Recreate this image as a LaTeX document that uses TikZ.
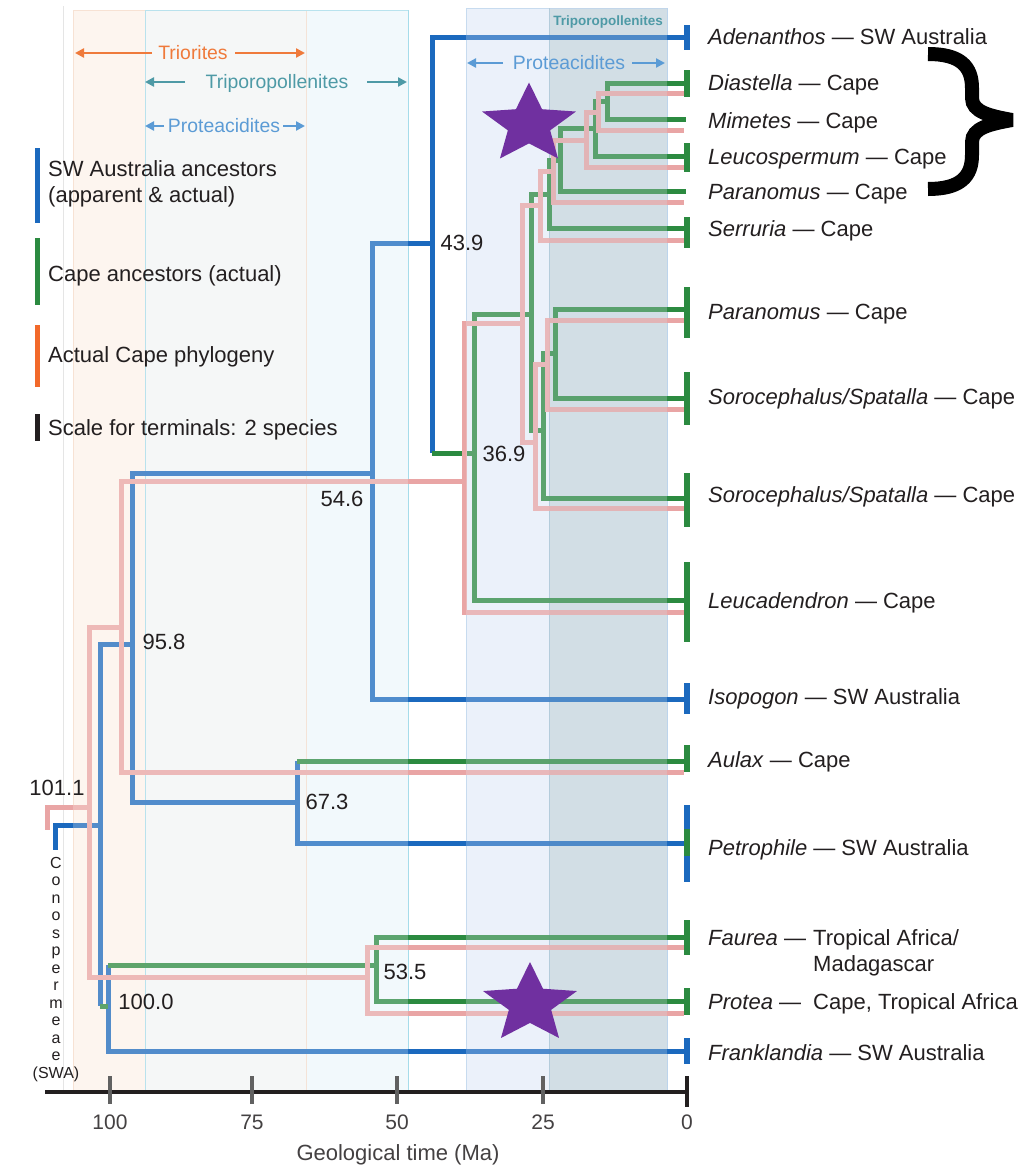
\documentclass[tikz,border=0pt]{standalone}
\usepackage{fontspec}
\setmainfont{Liberation Sans}
\usetikzlibrary{arrows.meta}
\definecolor{cblue}{HTML}{1B69BE}
\definecolor{cgreen}{HTML}{2B8A40}
\definecolor{cpink}{HTML}{E9A5A5}
\definecolor{corange}{HTML}{F2692A}
\definecolor{ctxt}{HTML}{231F20}
\definecolor{cstar}{HTML}{7030A0}
\definecolor{bandA}{HTML}{FDF5EF}
\definecolor{bandB}{HTML}{F5F7F7}
\definecolor{bandC}{HTML}{F2F9FC}
\definecolor{bandD}{HTML}{EBF1FA}
\definecolor{bandE}{HTML}{D2DEE5}
\definecolor{edgeO}{HTML}{F5DCCB}
\definecolor{edgeC}{HTML}{A6DCEA}
\definecolor{edgeD}{HTML}{BCD4EC}
\definecolor{edgeE}{HTML}{A9C6D8}
\definecolor{ctrio}{HTML}{EF7A3B}
\definecolor{ctrip}{HTML}{4E9AA6}
\definecolor{cprot}{HTML}{5B9BD5}
\begin{document}
\begin{tikzpicture}[x=1pt,y=-1pt,
  br/.style={line width=5pt, line cap=butt, line join=miter},
  bl/.style={br, draw=cblue}, gr/.style={br, draw=cgreen}, pk/.style={br, draw=cpink},
  tbar/.style={line width=5.5pt},
  lbl/.style={font=\fontsize{22}{26}\selectfont, text=ctxt, anchor=west, inner sep=0pt, text height=15.75pt, text depth=0pt},
  num/.style={lbl, anchor=center},
  ticklbl/.style={num, font=\fontsize{21}{24}\selectfont, text=ctxt!85},
  pollen/.style={font=\fontsize{19.4}{22}\selectfont, inner sep=0pt, text height=13.9pt, text depth=0pt},
  parr/.style={line width=2.4pt, -{Triangle[length=9pt,width=9pt]}},
  cono/.style={font=\fontsize{16}{18}\selectfont, text=ctxt, inner sep=0pt, anchor=base},
]
\useasboundingbox (0,0) rectangle (1025,1167);
\fill[white] (0,0) rectangle (1025,1167);
% ---------- bands ----------
\fill[bandA] (73,10) rectangle (145,1090);
\fill[bandB] (145,10) rectangle (306,1090);
\fill[bandC] (306,10) rectangle (408,1090);
\fill[bandD] (466,8) rectangle (549,1090);
\fill[bandE] (549,8) rectangle (667,1090);
\draw[black!10, line width=0.6pt] (63,6) -- (63,1090);
\draw[edgeO, line width=0.8pt] (73,1090) -- (73,10) -- (306,10) -- (306,1090);
\draw[edgeC, line width=0.8pt] (145,1090) -- (145,10) -- (408,10) -- (408,1090);
\draw[edgeD, line width=0.8pt] (466,1090) -- (466,8) -- (667,8) -- (667,1090);
\draw[edgeE, line width=0.8pt] (549,1090) -- (549,8);
% ---------- tips ----------
\coordinate (tAden) at (686,37);
\coordinate (tIso) at (686,699);
\coordinate (tPetro) at (686,843);
\coordinate (tFrank) at (686,1051);
\coordinate (gDia) at (686,83);
\coordinate (gMim) at (686,119);
\coordinate (gLeu) at (686,156);
\coordinate (gPar1) at (686,191);
\coordinate (gSer) at (686,228);
\coordinate (gPar2) at (686,309);
\coordinate (gSor1) at (686,398);
\coordinate (gSor2) at (686,498);
\coordinate (gLeuc) at (686,600);
\coordinate (gAul) at (686,761);
\coordinate (gFau) at (686,937);
\coordinate (gPro) at (686,1001);
\coordinate (pDia) at (684,93);
\coordinate (pMim) at (684,130);
\coordinate (pLeu) at (684,167);
\coordinate (pPar1) at (684,202);
\coordinate (pSer) at (684,240);
\coordinate (pPar2) at (684,320);
\coordinate (pSor1) at (684,409);
\coordinate (pSor2) at (684,508);
\coordinate (pLeuc) at (684,612);
\coordinate (pAul) at (684,772);
\coordinate (pFau) at (684,947);
\coordinate (pPro) at (684,1013);
% ---------- internal nodes ----------
\coordinate (b439) at (432,243);
\coordinate (b369) at (432,453);
\coordinate (b546) at (372,473);
\coordinate (b673) at (297,802);
\coordinate (b673t) at (297,761);
\coordinate (b958) at (132,644);
\coordinate (bRoot) at (100,825);
\coordinate (bStub) at (55,850);
\coordinate (bJoin) at (100,1006);
\coordinate (n100) at (108,1006);
\coordinate (n100t) at (108,965);
\coordinate (g1) at (607,101);
\coordinate (g2) at (595,128);
\coordinate (g3) at (560,160);
\coordinate (g4) at (549,194);
\coordinate (g5) at (555,353);
\coordinate (g6) at (543,430);
\coordinate (g7) at (531,314);
\coordinate (g8) at (474,453);
\coordinate (g9) at (376,965);
\coordinate (p1) at (598,112);
\coordinate (p2) at (586,140);
\coordinate (p3) at (553,171);
\coordinate (p4) at (540,205);
\coordinate (p5) at (547,364);
\coordinate (p6) at (535,442);
\coordinate (p7) at (522,323);
\coordinate (p8) at (464,481);
\coordinate (p9) at (121,627);
\coordinate (p10) at (367,977);
\coordinate (p11) at (89,807);
\coordinate (pStub) at (47,830);
% ---------- blue tree ----------
\draw[bl] (tAden) -| (b439) -- (b369);
\draw[bl] (b439) -| (b546) |- (tIso);
\draw[bl] (tPetro) -| (b673t);
\draw[bl] (b546) -| (b958) |- (b673);
\draw[bl] (b958) -| (bRoot) -- (bJoin);
\draw[bl] (bRoot) -| (bStub);
\draw[bl] (n100t) -- (n100) |- (tFrank);
% ---------- green tree ----------
\draw[gr] (gDia) -| (g1) |- (gMim);
\draw[gr] (g1) -| (g2) |- (gLeu);
\draw[gr] (g2) -| (g3) |- (gPar1);
\draw[gr] (g3) -| (g4) |- (gSer);
\draw[gr] (gPar2) -| (g5) |- (gSor1);
\draw[gr] (g5) -| (g6) |- (gSor2);
\draw[gr] (g4) -| (g7) |- (g6);
\draw[gr] (g7) -| (g8) |- (gLeuc);
\draw[gr] (b369) -- (g8);
\draw[gr] (gAul) -- (b673t);
\draw[gr] (gFau) -| (g9) |- (gPro);
\draw[gr] (g9) -- (n100t);
\draw[gr] (bJoin) -- (n100);
% ---------- pink tree ----------
\draw[pk] (pDia) -| (p1) |- (pMim);
\draw[pk] (p1) -| (p2) |- (pLeu);
\draw[pk] (p2) -| (p3) |- (pPar1);
\draw[pk] (p3) -| (p4) |- (pSer);
\draw[pk] (pPar2) -| (p5) |- (pSor1);
\draw[pk] (p5) -| (p6) |- (pSor2);
\draw[pk] (p4) -| (p7) |- (p6);
\draw[pk] (p7) -| (p8) |- (pLeuc);
\draw[pk] (p8) -| (p9) |- (pAul);
\draw[pk] (pFau) -| (p10) |- (pPro);
\draw[pk] (p9) -| (p11) |- (p10);
\draw[pk] (p11) -| (pStub);
% ---------- band overlay ----------
\fill[bandA, fill opacity=0.25] (73,10) rectangle (145,1090);
\fill[bandB, fill opacity=0.25] (145,10) rectangle (306,1090);
\fill[bandC, fill opacity=0.25] (306,10) rectangle (408,1090);
\fill[bandD, fill opacity=0.25] (466,8) rectangle (549,1090);
\fill[bandE, fill opacity=0.28] (549,8) rectangle (667,1090);
% ---------- terminal bars ----------
\draw[tbar, cblue] (687,25) -- (687,50);
\draw[tbar, cblue] (687,683) -- (687,714);
\draw[tbar, cblue] (687,805) -- (687,882);
\draw[tbar, cblue] (687,1038) -- (687,1064);
\foreach \a/\b in {70/97,143/172,217/248,287/338,372/425,473/527,562/642,745/772,829/856,920/955,988/1015}
  \draw[tbar, cgreen] (687,\a) -- (687,\b);
% ---------- legend ----------
\draw[line width=5pt, cblue] (37,148) -- (37,223);
\draw[line width=5pt, cgreen] (37,238) -- (37,305);
\draw[line width=5pt, corange] (37,325) -- (37,387);
\draw[line width=5pt, ctxt] (37,414) -- (37,441);
\node[lbl] (legB1) at (48,169) {SW Australia ancestors};
\node[lbl] (legB2) at (48,195) {(apparent \& actual)};
\node[lbl] (legG) at (48,274) {Cape ancestors (actual)};
\node[lbl] (legO) at (48,355) {Actual Cape phylogeny};
\node[lbl] (legK) at (48,428) {Scale for terminals: 2 species};
% ---------- pollen ranges ----------
\node[pollen, text=ctrio] (trio) at (193,53) {Triorites};
\draw[parr, ctrio] (152,53) -- (75,53);
\draw[parr, ctrio] (235,53) -- (305,53);
\node[pollen, text=ctrip] (trip) at (277,82) {Triporopollenites};
\draw[parr, ctrip] (185,82) -- (145,82);
\draw[parr, ctrip] (367,82) -- (407,82);
\node[pollen, text=cprot] (prot1) at (224,126) {Proteacidites};
\draw[parr, cprot] (164,126) -- (145,126);
\draw[parr, cprot] (283,126) -- (305,126);
\node[pollen, text=cprot] (prot2) at (569,63) {Proteacidites};
\draw[parr, cprot] (503,63) -- (467,63);
\draw[parr, cprot] (632,63) -- (665,63);
\node[font=\bfseries\fontsize{13.5}{15}\selectfont, text=ctrip, inner sep=0pt] (trip2) at (608,22) {Triporopollenites};
% ---------- node ages ----------
\node[num] (a439) at (462,243) {43.9};
\node[num] (a369) at (504,454) {36.9};
\node[num] (a546) at (342,499) {54.6};
\node[num] (a958) at (164,642) {95.8};
\node[num] (a673) at (327,802) {67.3};
\node[num] (a1011) at (57,788) {101.1};
\node[num] (a1000) at (146,1002) {100.0};
\node[num] (a535) at (405,972) {53.5};
% ---------- terminal labels ----------
\node[lbl] (lAden) at (708,37) {\textit{Adenanthos} — SW Australia};
\node[lbl] (lDia) at (708,83) {\textit{Diastella} — Cape};
\node[lbl] (lMim) at (708,121) {\textit{Mimetes} — Cape};
\node[lbl] (lLeu) at (708,157) {\textit{Leucospermum} — Cape};
\node[lbl] (lPar1) at (708,192) {\textit{Paranomus} — Cape};
\node[lbl] (lSer) at (708,229) {\textit{Serruria} — Cape};
\node[lbl] (lPar2) at (708,312) {\textit{Paranomus} — Cape};
\node[lbl] (lSor1) at (708,397) {\textit{Sorocephalus/Spatalla} — Cape};
\node[lbl] (lSor2) at (708,495) {\textit{Sorocephalus/Spatalla} — Cape};
\node[lbl] (lLeuc) at (708,601) {\textit{Leucadendron} — Cape};
\node[lbl] (lIso) at (708,697) {\textit{Isopogon} — SW Australia};
\node[lbl] (lAul) at (708,760) {\textit{Aulax} — Cape};
\node[lbl] (lPetro) at (708,848) {\textit{Petrophile} — SW Australia};
\node[lbl] (lFau) at (708,938) {\textit{Faurea} —};
\node[lbl] (lFau2) at (813,938) {Tropical Africa/};
\node[lbl] (lFau3) at (813,964) {Madagascar};
\node[lbl] (lPro) at (708,1002) {\textit{Protea} —};
\node[lbl] (lPro2) at (813,1002) {Cape, Tropical Africa};
\node[lbl] (lFrank) at (708,1053) {\textit{Franklandia} — SW Australia};
% ---------- Conospermeae ----------
\foreach \c [count=\i from 0] in {C,o,n,o,s,p,e,r,m,e,a,e,(SWA)}
  \node[cono] (cono\i) at (56,868+17.5*\i) {\c};
% ---------- axis ----------
\draw[line width=3.5pt, ctxt] (45,1092) -- (689,1092);
\foreach \x in {110,252,397,543} \draw[line width=4pt, black!62] (\x,1076) -- (\x,1104);
\draw[line width=4pt, ctxt] (687,1076) -- (687,1107);
\node[ticklbl] (t100) at (110,1122) {100};
\node[ticklbl] (t75) at (252,1122) {75};
\node[ticklbl] (t50) at (397,1122) {50};
\node[ticklbl] (t25) at (543,1122) {25};
\node[ticklbl] (t0) at (687,1122) {0};
\node[num, text=ctxt!85] (xlab) at (398,1153) {Geological time (Ma)};
% ---------- stars ----------
\foreach \sx/\sy in {529/124.5, 530/1004}{
  \begin{scope}[shift={(\sx,\sy)}, xscale=49.4, yscale=-42]
    \fill[cstar] (90:1) -- (126:0.45) -- (162:1) -- (198:0.45) -- (234:1) -- (270:0.45) -- (306:1) -- (342:0.45) -- (18:1) -- (54:0.45) -- cycle;
  \end{scope}
}
% ---------- brace ----------
\draw[line width=14pt, black, line join=miter, miter limit=2] (928,54) .. controls (960,54) and (972,66) .. (972,88) -- (972,98) .. controls (972,112) and (990,116) .. (1012,120) .. controls (990,124) and (972,128) .. (972,142) -- (972,155) .. controls (972,177) and (960,189) .. (928,189);
\end{tikzpicture}
\end{document}
